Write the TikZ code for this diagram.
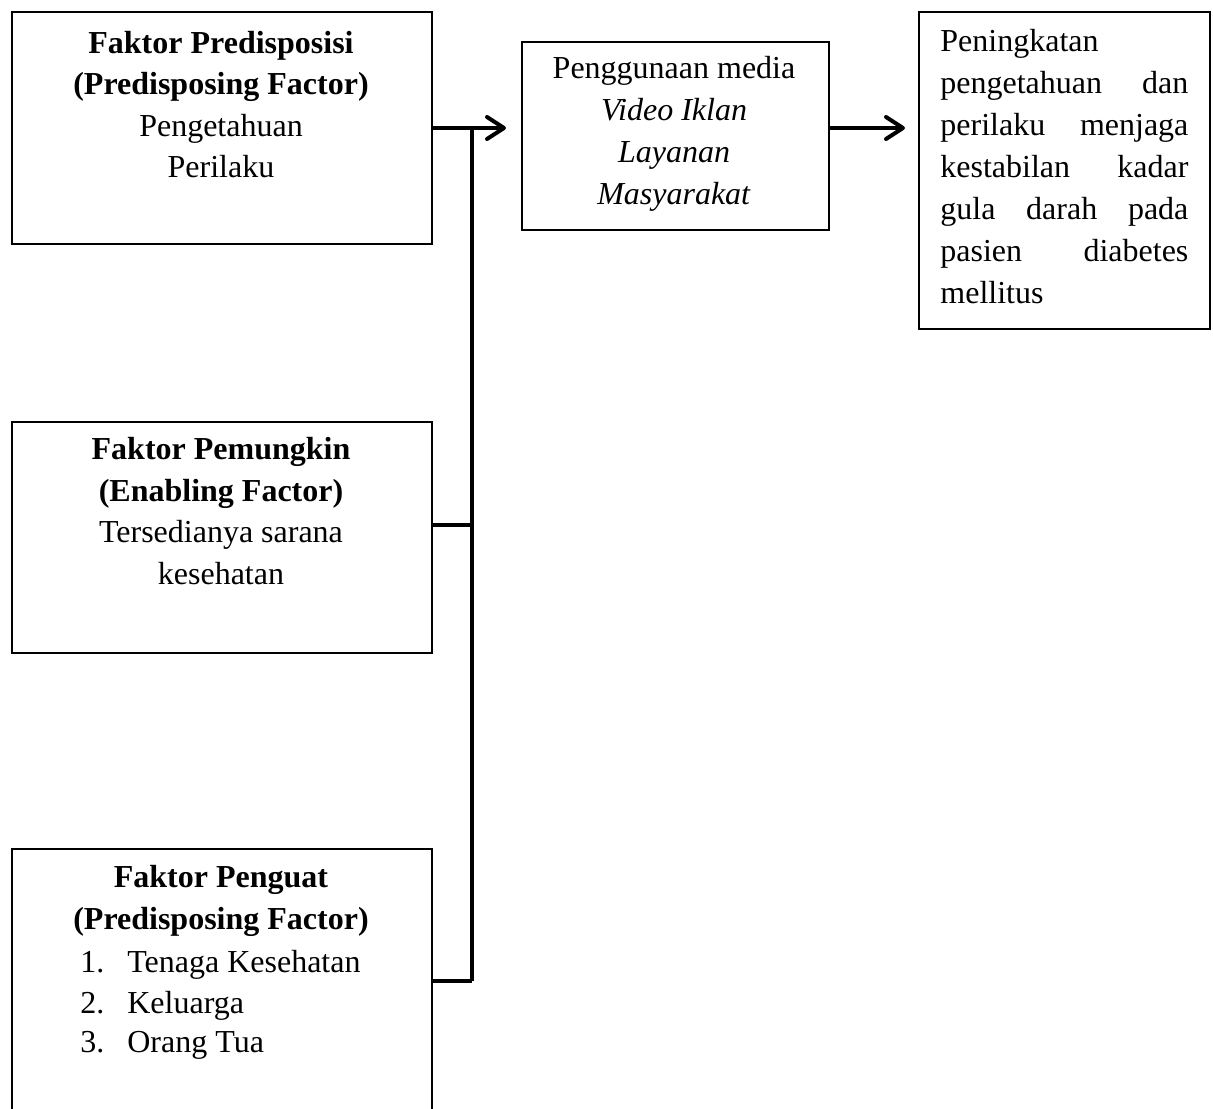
\documentclass[tikz,border=0pt]{standalone}
\usepackage{fontspec}
\setmainfont{Liberation Serif}
\usetikzlibrary{arrows.meta}
\tikzset{
  box/.style={draw, line width=0.75pt, rectangle, inner sep=0pt, anchor=north west},
  conn/.style={line width=2pt},
  arr/.style={conn, -{Straight Barb[length=8.5pt,width=11pt,line width=2pt,round]}},
  txt/.style={inner sep=0pt, anchor=base, font=\fontsize{16}{20}\selectfont},
  txtl/.style={txt, anchor=base west},
}
\begin{document}
\begin{tikzpicture}[x=0.5pt,y=-0.5pt]
\useasboundingbox (0,0) rectangle (1213,1108);
% boxes
\node[box, minimum width=210pt, minimum height=116pt] (b1) at (11,11) {};
\node[box, minimum width=210pt, minimum height=115.5pt] (b2) at (11,421) {};
\node[box, minimum width=210pt, minimum height=140pt] (b3) at (11,848) {};
\node[box, minimum width=153.5pt, minimum height=94pt] (media) at (521,41) {};
\node[box, minimum width=145.5pt, minimum height=158.5pt] (result) at (918,11) {};
% box 1 text
\node[txt] (t11) at (221,53) {\textbf{Faktor Predisposisi}};
\node[txt] (t12) at (221,94) {\textbf{(Predisposing Factor)}};
\node[txt] (t13) at (221,136) {Pengetahuan};
\node[txt] (t14) at (221,177) {Perilaku};
% box 2 text
\node[txt] (t21) at (221,459) {\textbf{Faktor Pemungkin}};
\node[txt] (t22) at (221,501) {\textbf{(Enabling Factor)}};
\node[txt] (t23) at (221,542) {Tersedianya sarana};
\node[txt] (t24) at (221,584) {kesehatan};
% box 3 text
\node[txt] (t31) at (221,887) {\textbf{Faktor Penguat}};
\node[txt] (t32) at (221,929) {\textbf{(Predisposing Factor)}};
\node[txtl] (t33) at (80,972) {\makebox[23.5pt][l]{1.}Tenaga Kesehatan};
\node[txtl] (t34) at (80,1013) {\makebox[23.5pt][l]{2.}Keluarga};
\node[txtl] (t35) at (80,1052) {\makebox[23.5pt][l]{3.}Orang Tua};
% media text
\node[txt] (m1) at (674,78) {Penggunaan media};
\node[txt] (m2) at (674,120) {\textit{Video Iklan}};
\node[txt] (m3) at (674,162) {\textit{Layanan}};
\node[txt] (m4) at (674,204) {\textit{Masyarakat}};
% result text
\node[txtl] (r1) at (940,51) {Peningkatan};
\node[txtl] (r2) at (940,93) {\makebox[124pt][s]{pengetahuan dan}};
\node[txtl] (r3) at (940,135) {\makebox[124pt][s]{perilaku menjaga}};
\node[txtl] (r4) at (940,177) {\makebox[124pt][s]{kestabilan kadar}};
\node[txtl] (r5) at (940,219) {\makebox[124pt][s]{gula darah pada}};
\node[txtl] (r6) at (940,261) {\makebox[124pt][s]{pasien diabetes}};
\node[txtl] (r7) at (940,303) {mellitus};
% connectors
\coordinate (j1) at (472,128);
\coordinate (j2) at (472,525);
\coordinate (j3) at (472,981);
\draw[arr, shorten >=7.5pt] (b1.east |- j1) -- (media.west |- j1);
\draw[conn] (j1) -- (j3);
\draw[conn] (b2.east |- j2) -- (j2);
\draw[conn] (b3.east |- j3) -- (j3);
\draw[arr, shorten >=6.5pt] (media.east |- j1) -- (result.west |- j1);
\end{tikzpicture}
\end{document}
